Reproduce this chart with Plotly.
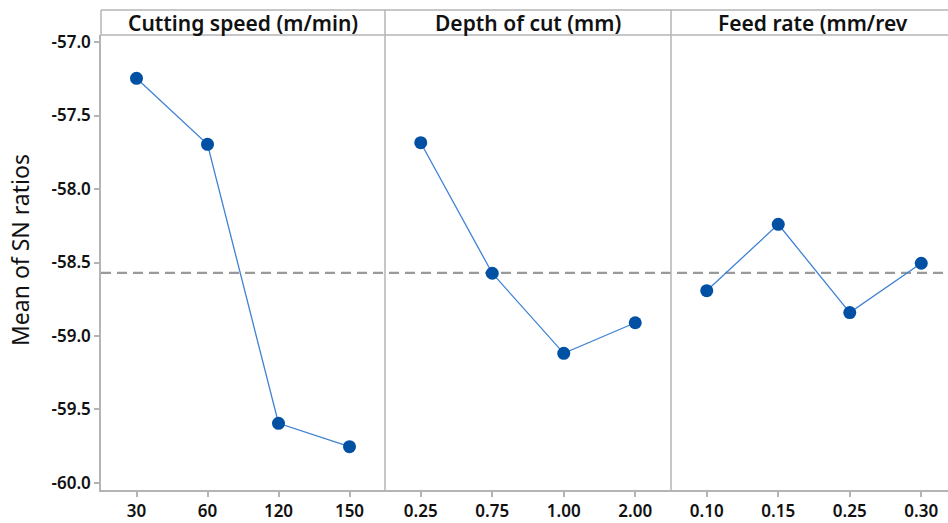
import plotly.graph_objects as go
from plotly.subplots import make_subplots

# factor levels and mean SN ratios
factors = ["Cutting speed (m/min)", "Depth of cut (mm)", "Feed rate (mm/rev"]
speed_levels = ["30", "60", "120", "150"]
speed_sn = [-57.247, -57.696, -59.594, -59.753]
depth_levels = ["0.25", "0.75", "1.00", "2.00"]
depth_sn = [-57.685, -58.573, -59.118, -58.910]
feed_levels = ["0.10", "0.15", "0.25", "0.30"]
feed_sn = [-58.692, -58.240, -58.841, -58.505]

y_ticks = [-60.0, -59.5, -59.0, -58.5, -58.0, -57.5, -57.0]
y_ticktext = ["-60.0", "-59.5", "-59.0", "-58.5", "-58.0", "-57.5", "-57.0"]

all_sn = speed_sn + depth_sn + feed_sn
grand_mean = sum(all_sn) / len(all_sn)

FONT = "Noto Sans"
GRID = "#b4b4b4"
MARKER = "#0050a4"
LINE = "#3f82d4"

fig = make_subplots(rows=1, cols=3, shared_yaxes=True,
                    horizontal_spacing=0, column_widths=[284, 286, 277])

for i, (lv, sn) in enumerate([(speed_levels, speed_sn),
                              (depth_levels, depth_sn),
                              (feed_levels, feed_sn)]):
    fig.add_trace(go.Scatter(
        x=lv, y=sn, mode="lines+markers",
        line=dict(color=LINE, width=1.3),
        marker=dict(color=MARKER, size=13),
        showlegend=False, hoverinfo="x+y"
    ), row=1, col=i + 1)

y_top = (490 - 35) / 480  # data area top in paper coords (strip above)

tickfont = dict(family=FONT, size=17, color="#111", weight=600)
for i in range(3):
    rng = [-0.5, 3.5] if i < 2 else [-0.5, 3.374]
    fig.update_xaxes(type="category", range=rng, showgrid=False, zeroline=False,
                     showline=True, linecolor=GRID, linewidth=1.5,
                     ticks="outside", ticklen=5, tickcolor=GRID, tickwidth=1.5,
                     tickfont=tickfont, row=1, col=i + 1)

fig.update_yaxes(range=[-60.048, -56.952], domain=[0, y_top],
                 tickvals=y_ticks, ticktext=y_ticktext,
                 showgrid=False, zeroline=False,
                 showline=True, linecolor=GRID, linewidth=1.5,
                 ticks="outside", ticklen=5, tickcolor=GRID, tickwidth=1.5,
                 tickfont=tickfont, row=1, col=1)
fig.update_yaxes(range=[-60.048, -56.952], domain=[0, y_top], showticklabels=False,
                 showgrid=False, zeroline=False, ticks="", row=1, col=2)
fig.update_yaxes(range=[-60.048, -56.952], domain=[0, y_top], showticklabels=False,
                 showgrid=False, zeroline=False, ticks="", row=1, col=3)

# panel borders and header strip
x1 = 284 / 847
x2 = 570 / 847
for xv in (x1, x2):
    fig.add_shape(type="line", xref="paper", yref="paper", x0=xv, x1=xv, y0=0, y1=1,
                  line=dict(color=GRID, width=1.5))
for yv in (y_top, 1):
    fig.add_shape(type="line", xref="paper", yref="paper", x0=0, x1=1, y0=yv, y1=yv,
                  line=dict(color=GRID, width=1.5))
fig.add_shape(type="line", xref="paper", yref="paper", x0=0, x1=0, y0=y_top, y1=1,
              line=dict(color=GRID, width=1.5))

# grand mean reference line, kept under the markers
fig.add_shape(type="line", xref="paper", yref="y", x0=0, x1=1,
              y0=grand_mean, y1=grand_mean, layer="below",
              line=dict(color="#999999", width=2.3, dash="10px,6px"))

centers = [142 / 847, 427 / 847, 712 / 847]
for c, name in zip(centers, factors):
    fig.add_annotation(x=c, y=(y_top + 1) / 2, xref="paper", yref="paper",
                       xanchor="center", yanchor="middle",
                       text=name, showarrow=False,
                       font=dict(family=FONT, size=21, color="#111", weight=600))

fig.add_annotation(x=-81 / 847, y=0.5, xref="paper", yref="paper",
                   xanchor="center", yanchor="middle",
                   text="Mean of SN ratios", textangle=-90, showarrow=False,
                   font=dict(family=FONT, size=23, color="#111"))

fig.update_layout(
    width=948, height=523,
    margin=dict(l=101, r=0, t=10, b=33),
    plot_bgcolor="white", paper_bgcolor="white",
)

# drop the browser's default body margin so the figure sits at the page corner
fig.write_html("out.html", config={"displayModeBar": False},
               post_script="document.body.style.margin='0';document.body.style.overflow='hidden';")
